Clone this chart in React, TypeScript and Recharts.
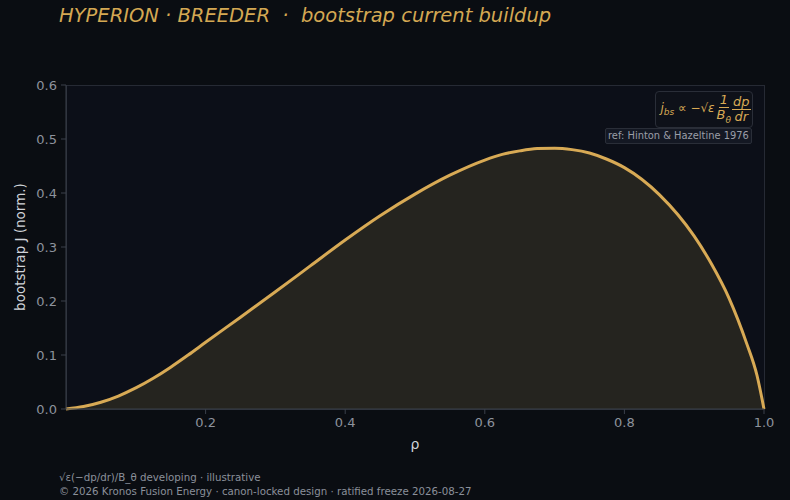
import React from 'react';
import { AreaChart, Area, XAxis, YAxis } from 'recharts';

if (typeof document !== 'undefined') {
  document.body.style.margin = '0';
  document.body.style.background = '#0a0d12';
}

const rho = [0, 0.025, 0.05, 0.075, 0.1, 0.125, 0.15, 0.175, 0.2, 0.25, 0.3, 0.35, 0.4, 0.45, 0.5, 0.55, 0.6, 0.625, 0.65, 0.675, 0.7, 0.725, 0.75, 0.775, 0.8, 0.85, 0.9, 0.925, 0.95, 0.975, 0.99, 1.0];
const jbs = [0, 0.0045, 0.0125, 0.024, 0.039, 0.057, 0.0775, 0.1, 0.1235, 0.170, 0.217, 0.265, 0.313, 0.358, 0.398, 0.433, 0.461, 0.4715, 0.478, 0.4822, 0.483, 0.4803, 0.474, 0.4625, 0.447, 0.397, 0.320, 0.268, 0.205, 0.122, 0.062, 0.0];
const xTicks = [0.2, 0.4, 0.6, 0.8, 1.0];
const yTicks = [0, 0.1, 0.2, 0.3, 0.4, 0.5, 0.6];

const data = rho.map((r, i) => ({ rho: r, j: jbs[i] }));

const FONT = '"DejaVu Sans", sans-serif';
const GOLD = '#d8aa55';
const TICK = '#8d929c';
const AXIS = '#3b404b';

export default function App() {
  return (
    <div style={{ position: 'relative', width: 790, height: 500, background: '#0a0d12', fontFamily: FONT, overflow: 'hidden' }}>
      <div style={{ position: 'absolute', left: 66, top: 85, width: 697, height: 323, background: '#0c0f18', border: '1px solid #262a34' }} />
      <div style={{ position: 'absolute', left: 0, top: 0 }}>
        <AreaChart width={790} height={500} data={data} margin={{ top: 85, right: 26, bottom: 0, left: 0 }}>
          <XAxis
            dataKey="rho"
            type="number"
            domain={[0, 1]}
            ticks={xTicks}
            tickFormatter={(v: number) => v.toFixed(1)}
            height={91}
            stroke={AXIS}
            tickSize={5}
            tickMargin={4}
            tick={{ fill: TICK, fontSize: 13, fontFamily: FONT }}
            label={{ value: 'ρ', position: 'insideTop', offset: 30, fill: '#d0d3d9', fontSize: 14, fontFamily: FONT }}
          />
          <YAxis
            type="number"
            domain={[0, 0.6]}
            ticks={yTicks}
            tickFormatter={(v: number) => v.toFixed(1)}
            width={66}
            stroke={AXIS}
            tickSize={5}
            tickMargin={4}
            tick={{ fill: TICK, fontSize: 13, fontFamily: FONT }}
            label={{ value: 'bootstrap J (norm.)', angle: -90, position: 'insideLeft', offset: 20, fill: '#d0d3d9', fontSize: 13.5, fontFamily: FONT, style: { textAnchor: 'middle' } }}
          />
          <Area
            type="monotone"
            dataKey="j"
            stroke={GOLD}
            strokeWidth={3}
            fill="#25241f"
            fillOpacity={1}
            isAnimationActive={false}
            dot={false}
            activeDot={false}
          />
        </AreaChart>
      </div>
      <div style={{ position: 'absolute', left: 59, top: 4, color: '#d4a853', fontStyle: 'italic', fontSize: 19.5, whiteSpace: 'pre' }}>
        {'HYPERION · BREEDER  ·  bootstrap current buildup'}
      </div>
      <div style={{ position: 'absolute', left: 655, top: 91, width: 98, height: 37, background: '#0e1119', border: '1px solid #2a2e38', borderRadius: 4, boxSizing: 'border-box', color: GOLD, fontStyle: 'italic', display: 'flex', alignItems: 'center', justifyContent: 'center', paddingLeft: 3, fontSize: 12, whiteSpace: 'nowrap' }}>
        <span>j<sub style={{ fontSize: 9 }}>bs</sub> ∝ −√ε</span>
        <span style={{ display: 'inline-flex', flexDirection: 'column', alignItems: 'center', margin: '0 1px 0 2px', fontSize: 13, lineHeight: '14px' }}>
          <span style={{ borderBottom: `1px solid ${GOLD}`, padding: '0 1px' }}>1</span>
          <span>B<sub style={{ fontSize: 9 }}>θ</sub></span>
        </span>
        <span style={{ display: 'inline-flex', flexDirection: 'column', alignItems: 'center', fontSize: 13, lineHeight: '14px' }}>
          <span style={{ borderBottom: `1px solid ${GOLD}`, padding: '0 1px' }}>dp</span>
          <span>dr</span>
        </span>
      </div>
      <div style={{ position: 'absolute', left: 605, top: 128, height: 16, padding: '0 2px', background: '#141823', border: '1px solid #2a2e38', borderRadius: 2, boxSizing: 'border-box', color: '#9a9ea8', fontSize: 9.9, lineHeight: '14px', whiteSpace: 'nowrap' }}>
        ref: Hinton &amp; Hazeltine 1976
      </div>
      <div style={{ position: 'absolute', left: 59, top: 471, color: '#8b909a', fontSize: 10.25, lineHeight: '13.5px', whiteSpace: 'pre' }}>
        <div>√ε(−dp/dr)/B_θ developing · illustrative</div>
        <div>© 2026 Kronos Fusion Energy · canon-locked design · ratified freeze 2026-08-27</div>
      </div>
    </div>
  );
}
